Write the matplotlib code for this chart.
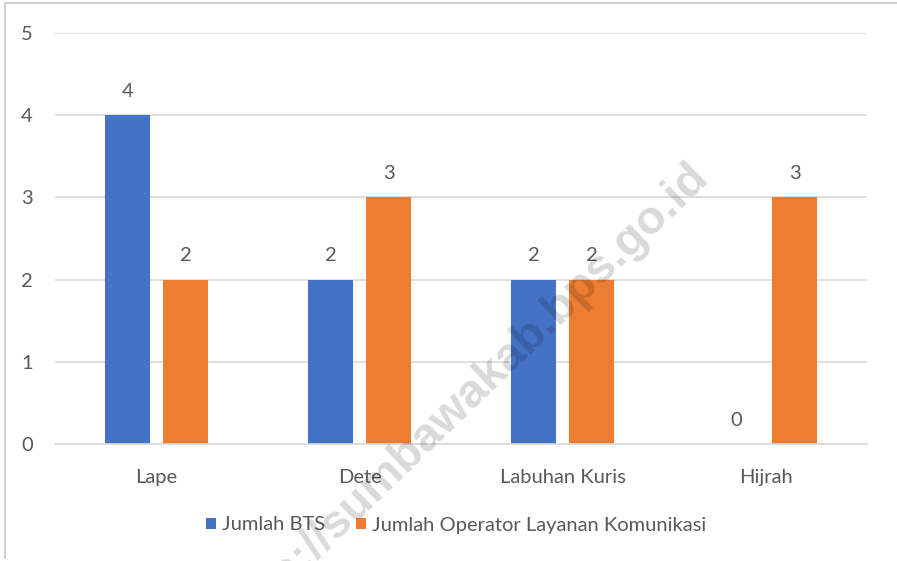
import matplotlib
matplotlib.use("Agg")
import matplotlib.pyplot as plt
import numpy as np

# data
kecamatan = ["Lape", "Dete", "Labuhan Kuris", "Hijrah"]
jumlah_bts = [4, 2, 2, 0]
jumlah_operator = [2, 3, 2, 3]
series_names = ["Jumlah BTS", "Jumlah Operator Layanan Komunikasi"]
y_ticks = [0, 1, 2, 3, 4, 5]

BLUE = "#4472C4"
ORANGE = "#ED7D31"
TEXT = "#595959"
GRID = "#D9D9D9"
FS = 14.5

plt.rcParams["font.family"] = ["Lato", "DejaVu Sans"]

fig = plt.figure(figsize=(8.97, 5.61), dpi=100)
ax = fig.add_axes([55 / 897, 1 - 444 / 561, 812 / 897, 411 / 561])

x = np.arange(len(kecamatan))
w = 0.22
off = 0.143
b1 = ax.bar(x - off, jumlah_bts, w, color=BLUE, label=series_names[0], zorder=2)
b2 = ax.bar(x + off, jumlah_operator, w, color=ORANGE, label=series_names[1], zorder=2)

for bars in (b1, b2):
    ax.bar_label(bars, padding=11, color=TEXT, fontsize=FS)

ax.set_xlim(-0.5, len(kecamatan) - 0.5)
ax.set_ylim(0, 5)
ax.set_yticks(y_ticks)
ax.set_xticks(x)
ax.set_xticklabels(kecamatan)
ax.tick_params(axis="both", length=0, colors=TEXT, labelsize=FS)
ax.tick_params(axis="y", pad=16)
ax.tick_params(axis="x", pad=18)
ax.grid(axis="y", color=GRID, linewidth=1.2, zorder=0)
for s in ["top", "right", "left"]:
    ax.spines[s].set_visible(False)
ax.spines["bottom"].set_color(GRID)
ax.spines["bottom"].set_linewidth(1.2)

leg = fig.legend(loc="center", bbox_to_anchor=(456 / 897, 1 - 525 / 561), ncol=2,
                 frameon=False, fontsize=FS, handlelength=0.5, handleheight=0.5,
                 handletextpad=0.3, columnspacing=1.5)
for t in leg.get_texts():
    t.set_color(TEXT)

# frame lines of the original picture
fig.add_artist(plt.Line2D([5 / 897, 5 / 897], [0.005, 1 - 3 / 561], color="#D0D0D0", lw=1.5))
fig.add_artist(plt.Line2D([5 / 897, 1], [1 - 3 / 561, 1 - 3 / 561], color="#D0D0D0", lw=1.5))

# watermark
fig.text(710 / 897, 1 - 178 / 561, "https://sumbawakab.bps.go.id", rotation=44,
         rotation_mode="anchor", ha="right", va="baseline", fontsize=34,
         fontweight="bold", family="Liberation Sans", color="black", alpha=0.15, zorder=10)

fig.savefig("out.png", dpi=100)
